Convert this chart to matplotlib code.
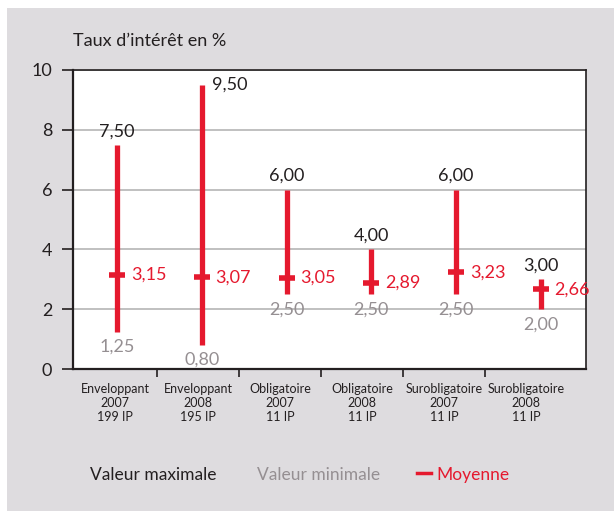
import numpy as np
import matplotlib
matplotlib.use('Agg')
import matplotlib.pyplot as plt
from matplotlib.lines import Line2D
from matplotlib.patches import Rectangle

# données
categories = ["Enveloppant\n2007\n199 IP", "Enveloppant\n2008\n195 IP",
              "Obligatoire\n2007\n11 IP", "Obligatoire\n2008\n11 IP",
              "Surobligatoire\n2007\n11 IP", "Surobligatoire\n2008\n11 IP"]
val_max = [7.50, 9.50, 6.00, 4.00, 6.00, 3.00]
val_min = [1.25, 0.80, 2.50, 2.50, 2.50, 2.00]
moyenne = [3.15, 3.07, 3.05, 2.89, 3.23, 2.66]

ROUGE = '#e5192e'
NOIR = '#231f20'
GRIS = '#958f92'
FOND = '#dedcdf'

plt.rcParams['font.family'] = ['Lato', 'DejaVu Sans']


def fmt(v):
    return f"{v:.2f}".replace('.', ',')


fig = plt.figure(figsize=(6.14, 5.11), dpi=100, facecolor='white')
fig.patches.append(Rectangle((7 / 614, 0), 1, 1 - 8 / 511, transform=fig.transFigure,
                             facecolor=FOND, edgecolor='none', zorder=-10))

ax = fig.add_axes([73 / 614, 1 - 369 / 511, 512.6 / 614, 299 / 511])
ax.set_facecolor('white')

x = np.arange(len(categories))
ax.vlines(x, val_min, val_max, color=ROUGE, lw=3.8, zorder=3)
ax.scatter(x, moyenne, marker='_', s=140, linewidths=4, color=ROUGE, zorder=4)

for i in range(len(x)):
    if i == 1:
        ax.annotate(fmt(val_max[i]), (x[i], val_max[i]), xytext=(7, 0),
                    textcoords='offset points', ha='left', va='center',
                    fontsize=13, color=NOIR)
    else:
        ax.annotate(fmt(val_max[i]), (x[i], val_max[i]), xytext=(0, 4),
                    textcoords='offset points', ha='center', va='bottom',
                    fontsize=13, color=NOIR)
    ax.annotate(fmt(val_min[i]), (x[i], val_min[i]), xytext=(0, -5),
                textcoords='offset points', ha='center', va='top',
                fontsize=13, color=GRIS)
    ax.annotate(fmt(moyenne[i]), (x[i], moyenne[i]), xytext=(10, 0),
                textcoords='offset points', ha='left', va='center',
                fontsize=13, color=ROUGE)

ax.set_ylim(0, 10)
ax.set_yticks(range(0, 11, 2))
ax.tick_params(axis='y', length=8, width=1.2, color=NOIR, pad=7,
               labelsize=13, labelcolor=NOIR)
ax.grid(axis='y', color='#b5b5b5', lw=1.2, zorder=0)
ax.set_axisbelow(True)

ax.set_xlim(-0.52, 5.53)
bornes = [-0.52, 0.47, 1.44, 2.41, 3.38, 4.34, 5.31]
ax.set_xticks(bornes[1:-1], minor=True)
ax.set_xticks([(bornes[k] + bornes[k + 1]) / 2 for k in range(6)])
ax.set_xticklabels(categories, fontsize=9, color=NOIR, linespacing=1.2)
ax.tick_params(axis='x', which='major', length=0, pad=10)
ax.tick_params(axis='x', which='minor', length=6, width=1.2, color=NOIR)

for s in ax.spines.values():
    s.set_color(NOIR)
    s.set_linewidth(1.2)
ax.spines['left'].set_linewidth(1.6)
ax.spines['bottom'].set_linewidth(1.6)

fig.text(73 / 614, 1 - 41 / 511, "Taux d\u2019intérêt en %", fontsize=13,
         color=NOIR, ha='left', va='center')

# légende
ly = 1 - 475 / 511
fig.text(90 / 614, ly, "Valeur maximale", fontsize=12.5, color=NOIR, va='center')
fig.text(257 / 614, ly, "Valeur minimale", fontsize=12.5, color=GRIS, va='center')
fig.lines.append(Line2D([417 / 614, 431 / 614], [ly + 0.003, ly + 0.003],
                        transform=fig.transFigure, color=ROUGE, lw=2.5))
fig.text(436 / 614, ly, "Moyenne", fontsize=12.5, color=ROUGE, va='center')

fig.savefig('out.png', dpi=100, facecolor=fig.get_facecolor())
